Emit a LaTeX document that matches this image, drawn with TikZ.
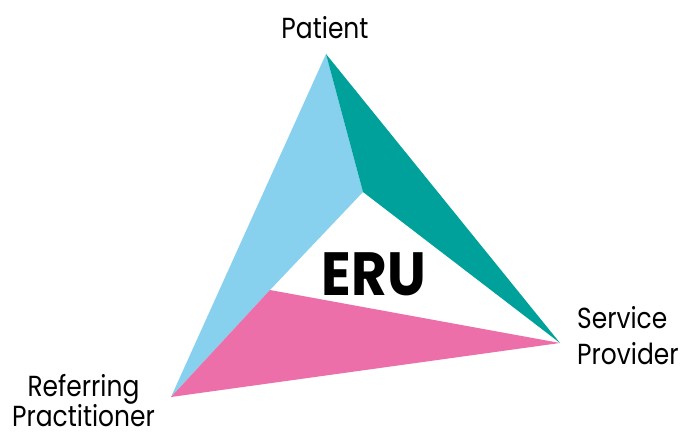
\documentclass[tikz,border=0pt]{standalone}
\usepackage{fontspec}
\setmainfont{Poppins}
\newfontfamily\labfont[FakeStretch=0.86]{Poppins}
\newfontfamily\erufont[FakeStretch=0.9]{Poppins Bold}
\definecolor{skyb}{HTML}{87D1EE}
\definecolor{tealc}{HTML}{00A19B}
\definecolor{pinkc}{HTML}{EC6FA9}
\begin{document}
\begin{tikzpicture}[x=1pt,y=1pt,
  lab/.style={inner sep=0pt,font=\labfont\fontsize{29}{36}\selectfont},
  eru/.style={inner sep=0pt,font=\erufont\fontsize{61}{61}\selectfont}]
\useasboundingbox (0,0) rectangle (683,432);
\coordinate (T) at (326,378);
\coordinate (R) at (560,89);
\coordinate (L) at (171,35);
\coordinate (I1) at (363,240);
\coordinate (I2) at (270,142);
\fill[skyb] (T) -- (I1) -- (I2) -- (L) -- cycle;
\fill[tealc] (T) -- (R) -- (I1) -- cycle;
\fill[pinkc] (I2) -- (R) -- (L) -- cycle;
\node[lab,anchor=base] (pat) at (325,393) {Patient};
\node[eru,anchor=base] (eru) at (374,137) {ERU};
\node[lab,anchor=base west] (sv) at (577,104) {Service};
\node[lab,anchor=base west] (pv) at (577,68) {Provider};
\node[lab,anchor=base] (rf) at (83.5,35.5) {Referring};
\node[lab,anchor=base] (pr) at (83.5,6) {Practitioner};
\end{tikzpicture}
\end{document}
